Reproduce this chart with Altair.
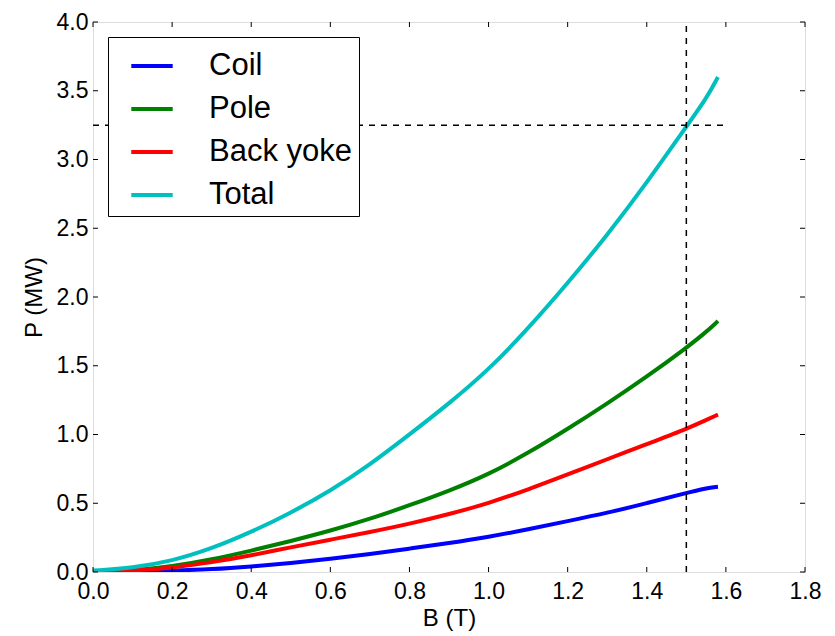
import altair as alt
import pandas as pd

# ---- data ----
B = [0.0, 0.1, 0.2, 0.3, 0.4, 0.5, 0.6, 0.7, 0.8, 0.9, 1.0, 1.1, 1.2, 1.3, 1.4, 1.5, 1.55, 1.58]
coil = [0.0, 0.003, 0.01, 0.02, 0.04, 0.065, 0.095, 0.13, 0.17, 0.21, 0.255, 0.31, 0.37, 0.43, 0.50, 0.575, 0.61, 0.62]
pole = [0.0, 0.01, 0.04, 0.09, 0.155, 0.225, 0.30, 0.385, 0.485, 0.59, 0.71, 0.865, 1.04, 1.225, 1.42, 1.63, 1.745, 1.825]
back_yoke = [0.0, 0.01, 0.03, 0.07, 0.12, 0.18, 0.235, 0.29, 0.35, 0.42, 0.50, 0.60, 0.71, 0.82, 0.93, 1.04, 1.105, 1.145]
total = [0.01, 0.03, 0.08, 0.17, 0.29, 0.43, 0.59, 0.78, 1.0, 1.225, 1.47, 1.77, 2.1, 2.45, 2.83, 3.24, 3.44, 3.6]

series_names = ["Coil", "Pole", "Back yoke", "Total"]
series_colors = ["#0000ff", "#008000", "#ff0000", "#00bfbf"]

x_ticks = [0.0, 0.2, 0.4, 0.6, 0.8, 1.0, 1.2, 1.4, 1.6, 1.8]
y_ticks = [0.0, 0.5, 1.0, 1.5, 2.0, 2.5, 3.0, 3.5, 4.0]
x_domain = [0.0, 1.8]
y_domain = [0.0, 4.0]

ref_B = [1.5]
ref_P = [3.25]
hline_end = [1.6]

W, H = 712, 550
FONT = "Liberation Sans"
XT = "B (T)"
YT = "P (MW)"

rows = []
for name, vals in zip(series_names, [coil, pole, back_yoke, total]):
    for b, p in zip(B, vals):
        rows.append({"B": b, "P": p, "series": name})
df = pd.DataFrame(rows)

xscale = alt.Scale(domain=x_domain, nice=False, zero=False)
yscale = alt.Scale(domain=y_domain, nice=False, zero=False)

xaxis = alt.Axis(values=x_ticks, format=".1f", tickSize=0, domain=False, grid=False,
                 labelFontSize=23, titleFontSize=24, labelPadding=8, titlePadding=3,
                 labelFont=FONT, titleFont=FONT, titleFontWeight="normal",
                 labelColor="black", titleColor="black", labelFlush=False, labelOverlap=False)
yaxis = alt.Axis(values=y_ticks, format=".1f", tickSize=0, domain=False, grid=False,
                 labelFontSize=23, titleFontSize=24, labelPadding=5, titlePadding=10,
                 labelFont=FONT, titleFont=FONT, titleFontWeight="normal",
                 labelColor="black", titleColor="black", labelFlush=False, labelOverlap=False)

lines = alt.Chart(df).mark_line(strokeWidth=4, clip=True, interpolate="basis").encode(
    x=alt.X("B:Q", scale=xscale, axis=xaxis, title=XT),
    y=alt.Y("P:Q", scale=yscale, axis=yaxis, title=YT),
    color=alt.Color("series:N", scale=alt.Scale(domain=series_names, range=series_colors),
                    legend=alt.Legend(title=None, orient="none", legendX=15, legendY=15,
                                      symbolType="stroke", symbolSize=1715, symbolStrokeWidth=4,
                                      symbolOffset=15,
                                      labelFontSize=31, labelFont=FONT, labelColor="black",
                                      strokeColor="black", fillColor="white", padding=6,
                                      rowPadding=5, labelOffset=34, cornerRadius=0, labelLimit=0)),
    order=alt.Order("B:Q"),
)

vline = alt.Chart(pd.DataFrame({"x": ref_B, "y0": [y_domain[0]], "y1": [y_domain[1]]})).mark_rule(
    color="black", strokeWidth=1.5, strokeDash=[6, 6]).encode(
    x=alt.X("x:Q", scale=xscale, title=XT), y=alt.Y("y0:Q", scale=yscale, title=YT), y2="y1:Q")

hline = alt.Chart(pd.DataFrame({"y": ref_P, "x0": [x_domain[0]], "x1": hline_end})).mark_rule(
    color="black", strokeWidth=1.5, strokeDash=[6, 6]).encode(
    y=alt.Y("y:Q", scale=yscale, title=YT), x=alt.X("x0:Q", scale=xscale, title=XT), x2="x1:Q")

xt = pd.DataFrame({"v": x_ticks})
yt = pd.DataFrame({"v": y_ticks})
tick_style = dict(color="black", strokeWidth=1)
t_bottom = alt.Chart(xt).mark_rule(**tick_style).encode(
    x=alt.X("v:Q", scale=xscale, title=XT), y=alt.value(H), y2=alt.value(H - 5))
t_top = alt.Chart(xt).mark_rule(**tick_style).encode(
    x=alt.X("v:Q", scale=xscale, title=XT), y=alt.value(0), y2=alt.value(5))
t_left = alt.Chart(yt).mark_rule(**tick_style).encode(
    y=alt.Y("v:Q", scale=yscale, title=YT), x=alt.value(0), x2=alt.value(5))
t_right = alt.Chart(yt).mark_rule(**tick_style).encode(
    y=alt.Y("v:Q", scale=yscale, title=YT), x=alt.value(W), x2=alt.value(W - 5))

chart = alt.layer(lines, vline, hline, t_bottom, t_top, t_left, t_right).properties(
    width=W, height=H,
    autosize=alt.AutoSizeParams(type="none"),
    padding={"left": 85, "top": 14, "right": 22, "bottom": 64},
    background="white",
).configure_view(stroke="black", strokeWidth=1.3).configure(font=FONT)

chart.save("out.html", embed_options={"renderer": "svg", "actions": False})
